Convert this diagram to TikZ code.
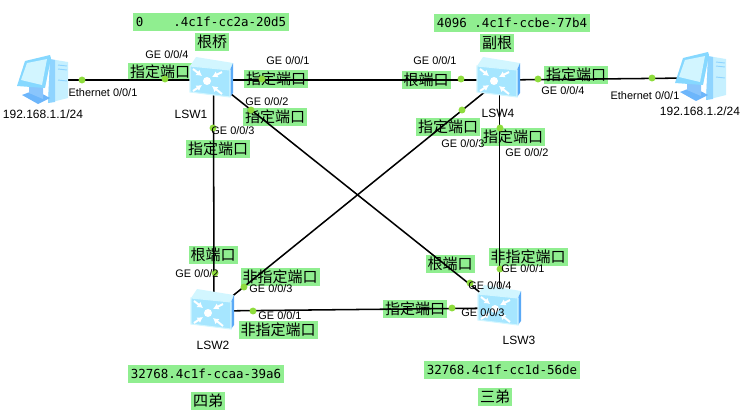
\documentclass[tikz,border=0pt]{standalone}
\usepackage{xcolor}
\usepackage{fontspec}
\setmainfont{Liberation Sans}
\newfontfamily\cjkfont{Noto Sans CJK SC}
\newfontfamily\macfont{DejaVu Sans Mono}
\usetikzlibrary{arrows.meta}
\definecolor{labelgreen}{HTML}{90EE90}
\definecolor{portgreen}{HTML}{8EDC3C}
\definecolor{swfront}{HTML}{A6E6FF}
\definecolor{swtop}{HTML}{D2F6FF}
\definecolor{swside}{HTML}{5AA9F6}
\definecolor{pcframe}{HTML}{86D8FF}
\definecolor{pcscreen}{HTML}{D2F5FF}
\definecolor{pctower}{HTML}{C6F0FF}
\definecolor{pcedge}{HTML}{8FD4FF}
\definecolor{pcstand}{HTML}{6DB6FB}
% switch icon, (#1,#2) is the disc in its front face
\newcommand{\swicon}[2]{
  \begin{scope}[shift={(#1,#2)}]
    \fill[swtop]   (-17,-15) -- (-11,-24) -- (26,-18) -- (23,-11) -- cycle;
    \fill[swside]  (23,-11) -- (26,-18) -- (26,12) -- (23,16) -- cycle;
    \fill[swfront, draw=swtop, line width=.8pt] (-17,-15) -- (23,-11) -- (23,16) -- (-17,11) -- cycle;
    \fill[white] (0,0) circle (4);
    \draw[swarrow] (-14,-12) -- (-5,-5);
    \draw[swarrow] (15,-9) -- (5,-4);
    \draw[swarrow] (-14,10) -- (-5,4);
    \draw[swarrow] (15,13) -- (5,5);
  \end{scope}
}
% host icon, (#1,#2) is the left end of its screen
\newcommand{\pcicon}[2]{
  \begin{scope}[shift={(#1,#2)}]
    \fill[pctower] (33,4) -- (51,7) -- (51,43) -- (31,48) -- cycle;
    \fill[pcedge]  (33,4) -- (38,5) -- (38,47) -- (31,48) -- cycle;
    \draw[pcedge, line width=.7pt] (41,10) -- (50,11);
    \draw[pcedge, line width=.7pt] (41,14) -- (50,15);
    \draw[pcedge, line width=.7pt] (41,25) -- (50,26);
    \fill[pcstand] (5,40) -- (21,49) -- (33,43) -- (18,35) -- cycle;
    \fill[pcstand!80] (12,28) -- (26,30) -- (26,44) -- (12,38) -- cycle;
    \fill[pcframe] (8,6) -- (33,0) -- (34,3) -- (28,33) -- (0,31) -- cycle;
    \fill[pcscreen] (10,8) -- (30,4) -- (25,30) -- (4,25) -- cycle;
  \end{scope}
}
\begin{document}
\begin{tikzpicture}[
    x=0.75pt, y=-0.75pt,
    every node/.style={font=\fontsize{8.2pt}{9pt}\selectfont, inner sep=0pt},
    bigtext/.style={font=\fontsize{9pt}{10pt}\selectfont},
    tag/.style ={fill=labelgreen, minimum height=13.5pt, inner xsep=1.5pt,
                 font=\cjkfont\fontsize{11.25pt}{12pt}\selectfont},
    mac/.style ={fill=labelgreen, minimum height=13.5pt, inner xsep=2.2pt,
                 font=\macfont\fontsize{9.35pt}{10pt}\selectfont},
    device/.style={minimum size=1pt},
    port/.style={circle, fill=portgreen, minimum size=5.2pt},
    link/.style={line width=1.15pt, black},
    swarrow/.style={-{Latex[length=4.2pt,width=5pt]}, white, line width=1.5pt},
]
\useasboundingbox (0,0) rectangle (746,419);
% bridge ids and names
\node[mac] (id1) at (211,22)  {0\ \ \ \ .4c1f-cc2a-20d5};
\node[mac] (id4) at (512,23)  {4096 .4c1f-ccbe-77b4};
\node[mac] (id2) at (206,374) {32768.4c1f-ccaa-39a6};
\node[mac] (id3) at (502,370) {32768.4c1f-cc1d-56de};
\node[tag] (name1) at (212,42)  {根桥};
\node[tag] (name4) at (497,43)  {副根};
\node[tag] (name2) at (208,401) {四弟};
\node[tag] (name3) at (495,397) {三弟};
% port roles
\node[tag] (role14) at (160,72)  {指定端口};
\node[tag] (role11) at (276,79)  {指定端口};
\node[tag] (role12) at (275,117) {指定端口};
\node[tag] (role13) at (218,149) {指定端口};
\node[tag] (role41) at (426,80)  {根端口};
\node[tag] (role44) at (576,75)  {指定端口};
\node[tag] (role43) at (448,127) {指定端口};
\node[tag] (role42) at (513,137) {指定端口};
\node[tag] (role22) at (213,255) {根端口};
\node[tag] (role23) at (280,277) {非指定端口};
\node[tag] (role21) at (278,330) {非指定端口};
\node[tag] (role31) at (528,257) {非指定端口};
\node[tag] (role34) at (450,264) {根端口};
\node[tag] (role33) at (415,309) {指定端口};
% devices
\node[device] (PC1)  at (60,80)    {};
\node[device] (PC2)  at (690,78)   {};
\node[device] (LSW1) at (213.5,80) {};
\node[device] (LSW4) at (499.5,80) {};
\node[device] (LSW2) at (214,311)  {};
\node[device] (LSW3) at (499.5,308) {};
\draw[link] (PC1)  -- (LSW1);
\draw[link] (LSW1) -- (LSW4);
\draw[link] (LSW4) -- (PC2);
\draw[link] (LSW1) -- (LSW2);
\draw[link] (LSW4) -- (LSW3);
\draw[link] (LSW1) -- (LSW3);
\draw[link] (LSW4) -- (LSW2);
\draw[link] (LSW2) -- (LSW3);
\pcicon{17}{55}
\pcicon{675}{52}
\swicon{207}{81}
\swicon{494}{81}
\swicon{208}{313}
\swicon{495}{309}
% port dots
\node[port] (p1)  at (82,80)   {};
\node[port] (p2)  at (165,79)  {};
\node[port] (p3)  at (262,79)  {};
\node[port] (p4)  at (461,79)  {};
\node[port] (p5)  at (538,79)  {};
\node[port] (p6)  at (652,78)  {};
\node[port] (p7)  at (251,110) {};
\node[port] (p8)  at (213,128) {};
\node[port] (p9)  at (462,110) {};
\node[port] (p10) at (500,128) {};
\node[port] (p11) at (215,273) {};
\node[port] (p12) at (244,287) {};
\node[port] (p13) at (253,311) {};
\node[port] (p14) at (500,269) {};
\node[port] (p15) at (470,283) {};
\node[port] (p16) at (452,308) {};
% interface names
\node (if14) at (167,55)  {GE 0/0/4};
\node (if11) at (288,61)  {GE 0/0/1};
\node (if12) at (267,102) {GE 0/0/2};
\node (if13) at (233,131) {GE 0/0/3};
\node (if41) at (435,61)  {GE 0/0/1};
\node (if44) at (563,91)  {GE 0/0/4};
\node (if43) at (463,144) {GE 0/0/3};
\node (if42) at (527,153) {GE 0/0/2};
\node (if22) at (197,274) {GE 0/0/2};
\node (if23) at (271,289) {GE 0/0/3};
\node (if21) at (280,316) {GE 0/0/1};
\node (if31) at (523,269) {GE 0/0/1};
\node (if34) at (490,286) {GE 0/0/4};
\node (if33) at (483,313) {GE 0/0/3};
\node (ifpc1) at (103,93) {Ethernet 0/0/1};
\node (ifpc2) at (645,96) {Ethernet 0/0/1};
\node[bigtext] (ip1) at (43,114)  {192.168.1.1/24};
\node[bigtext] (ip2) at (700,111) {192.168.1.2/24};
\node[bigtext] (sw1) at (191,114) {LSW1};
\node[bigtext] (sw4) at (498,113) {LSW4};
\node[bigtext] (sw2) at (213,345) {LSW2};
\node[bigtext] (sw3) at (519,340) {LSW3};
\end{tikzpicture}
\end{document}
